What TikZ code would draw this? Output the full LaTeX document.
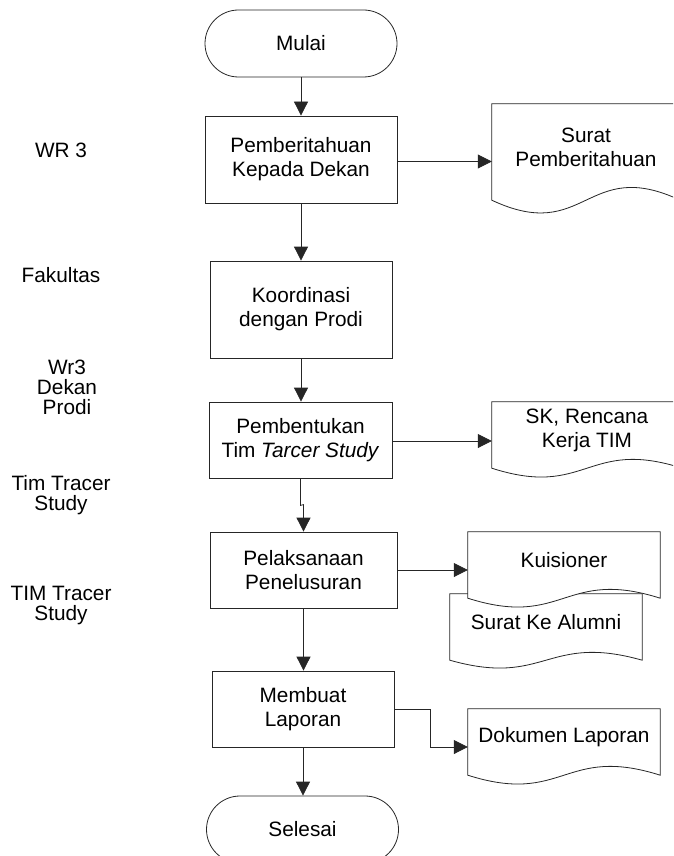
\documentclass[tikz,border=0pt]{standalone}
\usepackage{fontspec}
\setmainfont{Liberation Sans}
\usetikzlibrary{arrows.meta,shapes.misc,calc}

% document symbol: flat top, wavy bottom 10pt below the text area
\newcommand\docoutline[2]{%
  \path[docline] (#1.north west) -- (#1.north east) -- ([yshift=-10pt]#1.south east)
    .. controls ([yshift={-10pt+3.4*#2}]#1.south) and ([yshift={-10pt-3.4*#2}]#1.south)
    .. ([yshift=-10pt]#1.south west) -- cycle;}

\begin{document}
\begin{tikzpicture}[x=1pt,y=-1pt,
  every node/.style={font=\fontsize{20.8}{24}\selectfont},
  line/.style={draw=black!85, line width=0.8pt},
  docline/.style={line, fill=white},
  proc/.style={rectangle, line, align=center, inner sep=0pt},
  term/.style={rounded rectangle, line, minimum width=192pt, minimum height=67pt, inner sep=0pt},
  docnode/.style={rectangle, align=center, inner sep=0pt},
  lane/.style={align=center, inner sep=0pt, font=\fontsize{20.8}{20}\selectfont},
  arr/.style={line, -{Triangle[length=14pt,width=14pt]}}]

\useasboundingbox (0,0) rectangle (673,856);
\clip (0,0) rectangle (673,856);

% lane labels
\node[lane] (l1) at (61,150) {WR 3};
\node[lane] (l2) at (61,275) {Fakultas};
\node[lane] (l3) at (67,387) {Wr3\\Dekan\\Prodi};
\node[lane] (l4) at (61,495) {Tim Tracer\\Study};
\node[lane] (l5) at (61,605) {TIM Tracer\\Study};

% main flow
\node[term] (start) at (301,43.5) {Mulai};
\node[proc, minimum width=192pt, minimum height=87pt] (b1) at (301,159.5) {Pemberitahuan\\Kepada Dekan};
\node[proc, minimum width=182pt, minimum height=97pt] (b2) at (301,309.5) {Koordinasi\\dengan Prodi};
\node[proc, minimum width=183pt, minimum height=76pt] (b3) at (300.5,440) {Pembentukan\\Tim \textit{Tarcer Study}};
\node[proc, minimum width=187pt, minimum height=76pt] (b4) at (303.5,570) {Pelaksanaan\\Penelusuran};
\node[proc, minimum width=182pt, minimum height=76pt] (b5) at (303,709) {Membuat\\Laporan};
\node[term] (stop) at (302.5,829.5) {Selesai};

% documents
\node[docnode, minimum width=188pt, minimum height=86pt] (d1) at (586,147) {};
\docoutline{d1}{13pt}
\node[docnode] at (d1) {Surat\\Pemberitahuan};

\node[docnode, minimum width=190pt, minimum height=56pt] (d3) at (587,430) {};
\docoutline{d3}{9pt}
\node[docnode] at (d3) {SK, Rencana\\Kerja TIM};

\node[docnode, minimum width=192pt, minimum height=56pt] (d4b) at (546,622) {};
\docoutline{d4b}{8pt}
\node[docnode] at (d4b) {Surat Ke Alumni};

\node[docnode, minimum width=192pt, minimum height=56pt] (d4) at (564,560) {};
\docoutline{d4}{9pt}
\node[docnode] at (d4) {Kuisioner};

\node[docnode, minimum width=192pt, minimum height=56pt] (d5) at (564,737) {};
\docoutline{d5}{9pt}
\node[docnode] at (d5) {Dokumen Laporan};

% connectors
\draw[arr] (start.south) -- (b1.north);
\draw[arr] (b1.south) -- (b2.north);
\draw[arr] (b2.south) -- (b2.south |- b3.north);
\draw[arr] (b3.south) -- ++(0,27) -- ($(b4.north)+(0,-27)$) -- (b4.north);
\draw[arr] (b4.south) -- (b4.south |- b5.north);
\draw[arr] (b5.south) -- (b5.south |- stop.north);

\draw[arr] ([yshift=-2pt]b1.east) -- ([yshift=-2pt]b1.east -| d1.west);
\draw[arr] ([yshift=-1pt]b3.east) -- ([yshift=-1pt]b3.east -| d3.west);
\draw[arr] (b4.east) -- (b4.east -| d4.west);
\draw[arr] (b5.east) -- ++(36,0) |- ([yshift=-10pt]d5.west);
\end{tikzpicture}
\end{document}
